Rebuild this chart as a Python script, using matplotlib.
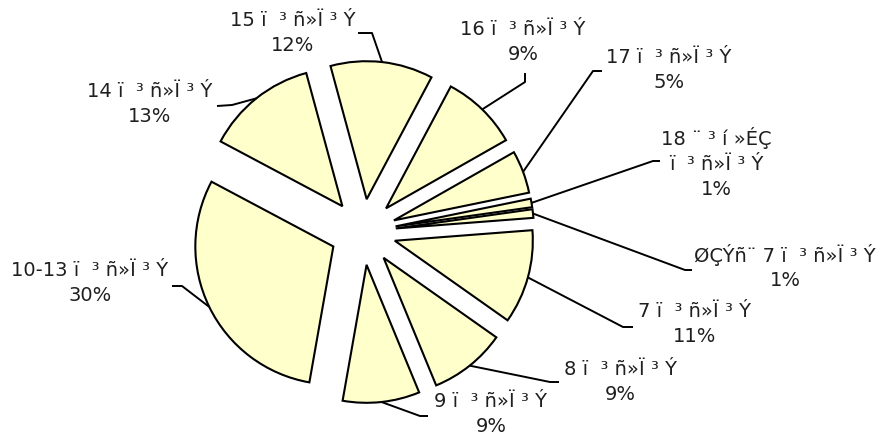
import matplotlib
matplotlib.use("Agg")
import matplotlib.pyplot as plt
import numpy as np

# slice labels (ArmSCII text shown as in the source) and shares, in %
labels = [
  "ØÇÝ\u00f1¨ 7 ï  ³ ñ»Ï ³ Ý",
  "7 ï  ³ ñ»Ï ³ Ý",
  "8 ï  ³ ñ»Ï ³ Ý",
  "9 ï  ³ ñ»Ï ³ Ý",
  "10-13 ï  ³ ñ»Ï ³ Ý",
  "14 ï  ³ ñ»Ï ³ Ý",
  "15 ï  ³ ñ»Ï ³ Ý",
  "16 ï  ³ ñ»Ï ³ Ý",
  "17 ï  ³ ñ»Ï ³ Ý",
  "18 ¨ ³ í »ÉÇ\nï  ³ ñ»Ï ³ Ý",
]
shares = [1, 11, 9, 9, 30, 13, 12, 9, 5, 1]

W, H = 882, 437
# layout in pixel coords (y measured from top): label centre, leader elbow, leader end
label_pos = [(785, 267), (695, 324), (620, 382), (491, 414), (90, 283),
             (150, 104), (293, 33), (523, 42), (669, 70), (716, 163)]
leader_elbow = [(685, 270), (623, 327), (550, 382), (420, 416), (182, 286),
                (232, 105), (372, 33), (525, 82), (593, 71), (653, 161)]
leader_end = [(692, 270), (633, 327), (559, 382), (428, 416), (172, 286),
              (217, 106), (358, 33), (525, 73), (602, 71), (660, 161)]

plt.rcParams["font.family"] = ["DejaVu Sans"]

fig = plt.figure(figsize=(W / 100, H / 100), dpi=100)
fig.patch.set_facecolor("white")
ax = fig.add_axes([0, 0, 1, 1])

radius = 138
center = (363, H - 232)
wedges, _ = ax.pie(
  shares,
  startangle=8,
  counterclock=False,
  explode=[33] * len(shares),
  radius=radius,
  center=center,
  wedgeprops=dict(facecolor="#FFFFCC", edgecolor="black", linewidth=1.5),
)

for w, lab, v, (tx, ty), (ex, ey), (hx, hy) in zip(
    wedges, labels, shares, label_pos, leader_elbow, leader_end):
  mid = np.deg2rad((w.theta1 + w.theta2) / 2)
  cx, cy = w.center
  ax_ = cx + w.r * np.cos(mid)
  ay_ = cy + w.r * np.sin(mid)
  ax.plot([ax_, ex, hx], [ay_, H - ey, H - hy], color="black", linewidth=1.4,
          solid_capstyle="butt", zorder=1)
  ax.text(tx, H - ty, f"{lab}\n{v}%", ha="center", va="center",
          fontsize=14, linespacing=1.37, color="#1f1f1f")

ax.set_xlim(0, W)
ax.set_ylim(0, H)
ax.set_aspect("auto")
ax.axis("off")

fig.savefig("out.png", dpi=100, facecolor="white")
